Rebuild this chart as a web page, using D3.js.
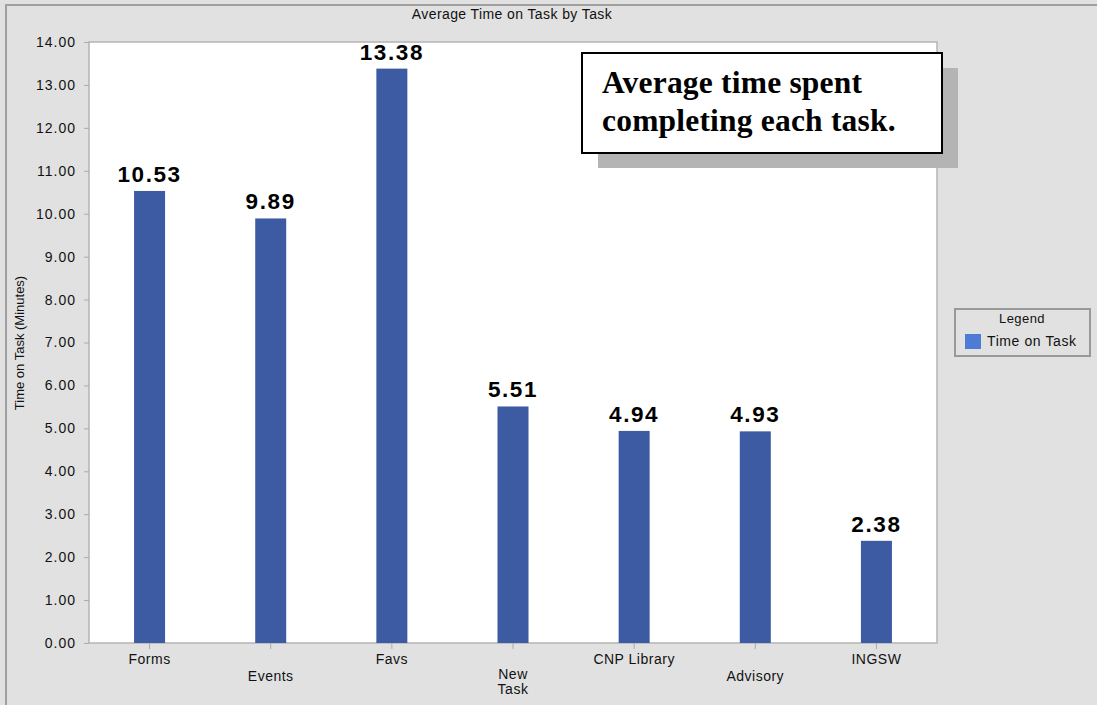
<!DOCTYPE html>
<html><head><meta charset="utf-8">
<script src="https://cdn.jsdelivr.net/npm/d3@7"></script>
<style>
html,body{margin:0;padding:0;background:#e1e1e1;}
svg{display:block;font-family:Arial,"Liberation Sans",sans-serif;}
</style></head>
<body><svg id="c" width="1097" height="705"></svg>
<script>
const categories = ["Forms","Events","Favs","New Task","CNP Library","Advisory","INGSW"];
const values = [10.53, 9.89, 13.38, 5.51, 4.94, 4.93, 2.38];
const yTicks = [0,1,2,3,4,5,6,7,8,9,10,11,12,13,14];
const chartTitle = "Average Time on Task by Task";
const yTitle = "Time on Task (Minutes)";
const legendTitle = "Legend";
const seriesName = "Time on Task";
const noteLines = ["Average time spent","completing each task."];

const svg = d3.select("#c");
const m = {left:89, right:937, top:42, bottom:643};
// outer frame
svg.append("rect").attr("x",6).attr("y",5).attr("width",1097).attr("height",710)
  .attr("fill","#e1e1e1").attr("stroke","#a0a0a0").attr("stroke-width",2);

const x = d3.scaleBand().domain(categories).range([m.left,m.right]).padding(0);
const y = d3.scaleLinear().domain([0,14]).range([m.bottom,m.top]);

svg.append("rect").attr("x",m.left).attr("y",m.top).attr("width",m.right-m.left).attr("height",m.bottom-m.top)
  .attr("fill","#fff").attr("stroke","#b4b4b4").attr("stroke-width",1.5);

// title
svg.append("text").attr("x",512).attr("y",19).attr("text-anchor","middle")
  .attr("font-size",14).attr("letter-spacing",0.4).attr("fill","#111").text(chartTitle);

// y axis
const yAxis = d3.axisLeft(y).tickValues(yTicks).tickFormat(d3.format(".2f")).tickSize(5).tickPadding(8);
const ga = svg.append("g").attr("transform",`translate(${m.left},0)`).call(yAxis);
ga.select(".domain").remove();
ga.selectAll(".tick line").attr("stroke","#aaa");
ga.selectAll(".tick text").attr("font-size",14).attr("letter-spacing",1).attr("fill","#111")
  .attr("font-family","Arial,'Liberation Sans',sans-serif");

svg.append("text").attr("transform",`translate(24,343) rotate(-90)`).attr("text-anchor","middle")
  .attr("font-size",13).attr("fill","#111").text(yTitle);

// x axis
const xAxis = d3.axisBottom(x).tickSize(6).tickFormat("");
const gx = svg.append("g").attr("transform",`translate(0,${m.bottom})`).call(xAxis);
gx.select(".domain").remove();
gx.selectAll(".tick line").attr("stroke","#aaa");
categories.forEach((c,i)=>{
  const words = c === "New Task" ? ["New","Task"] : [c];
  const y0 = words.length > 1 ? 679 : (i%2===0 ? 664 : 681);
  const t = svg.append("text").attr("x",x(c)+x.bandwidth()/2).attr("y",y0).attr("text-anchor","middle")
      .attr("font-size",14).attr("letter-spacing",0.5).attr("fill","#111");
  words.forEach((w,j)=>{
    t.append("tspan").attr("x",x(c)+x.bandwidth()/2).attr("dy",j===0?0:15).text(w);
  });
});

// bars
const bw = 31;
svg.append("g").selectAll("rect").data(values).join("rect")
  .attr("x",(d,i)=>x(categories[i])+x.bandwidth()/2-bw/2)
  .attr("y",d=>y(d)).attr("width",bw).attr("height",d=>y(0)-y(d))
  .attr("fill","#3d5ba3");
svg.append("g").selectAll("text").data(values).join("text")
  .attr("x",(d,i)=>x(categories[i])+x.bandwidth()/2)
  .attr("y",d=>y(d)-9).attr("text-anchor","middle")
  .attr("font-size",22.5).attr("font-weight","bold").attr("letter-spacing",1.6).attr("fill","#000")
  .text(d=>d3.format(".2f")(d));

// annotation box
svg.append("rect").attr("x",598).attr("y",68).attr("width",360).attr("height",100).attr("fill","#b4b4b4");
svg.append("rect").attr("x",582).attr("y",53).attr("width",360).attr("height",100)
  .attr("fill","#fff").attr("stroke","#000").attr("stroke-width",2);
noteLines.forEach((t,i)=>{
  svg.append("text").attr("x",602).attr("y",93+i*38)
    .attr("font-family","'Liberation Serif','Times New Roman',serif").attr("font-weight","bold")
    .attr("font-size",31.5).attr("letter-spacing",0.2).attr("fill","#000").text(t);
});

// legend
svg.append("rect").attr("x",955).attr("y",309).attr("width",135).attr("height",47)
  .attr("fill","none").attr("stroke","#999").attr("stroke-width",2);
svg.append("text").attr("x",1022).attr("y",323).attr("text-anchor","middle")
  .attr("font-size",13).attr("letter-spacing",0.4).attr("fill","#111").text(legendTitle);
svg.append("rect").attr("x",965).attr("y",334).attr("width",16).attr("height",15).attr("fill","#4f7bd8");
svg.append("text").attr("x",987).attr("y",346)
  .attr("font-size",14).attr("letter-spacing",0.6).attr("fill","#111").text(seriesName);
</script></body></html>
